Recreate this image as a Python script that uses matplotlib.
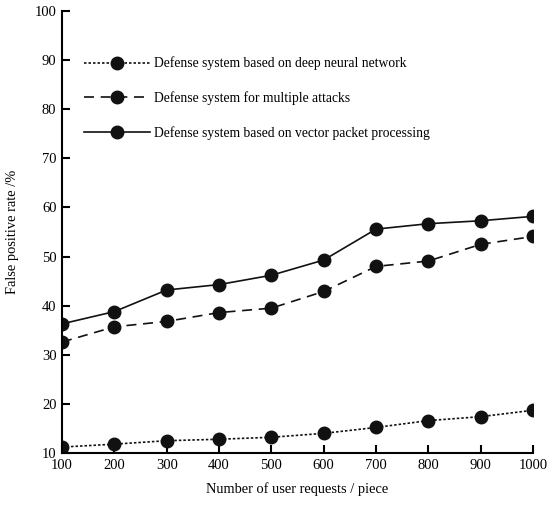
import matplotlib.pyplot as plt

plt.rcParams['font.family'] = ['Liberation Serif', 'DejaVu Serif']

requests = [100, 200, 300, 400, 500, 600, 700, 800, 900, 1000]
dnn_rate = [11.2, 11.8, 12.5, 12.8, 13.2, 14.0, 15.2, 16.6, 17.4, 18.7]
multi_rate = [32.6, 35.7, 36.8, 38.6, 39.5, 42.9, 48.0, 49.1, 52.5, 54.1]
vpp_rate = [36.3, 38.8, 43.2, 44.3, 46.2, 49.3, 55.6, 56.7, 57.3, 58.2]

labels = ['Defense system based on deep neural network',
          'Defense system for multiple attacks',
          'Defense system based on vector packet processing']

fig = plt.figure(figsize=(5.49, 5.05), dpi=100)
ax = fig.add_axes([0.113, 0.103, 0.858, 0.875])

ax.plot(requests, dnn_rate, color='#111111', ls=(0, (1.5, 1.2)), lw=1.2,
        marker='o', ms=9, label=labels[0])
ax.plot(requests, multi_rate, color='#111111', ls=(0, (6, 4)), lw=1.2,
        marker='o', ms=9, label=labels[1])
ax.plot(requests, vpp_rate, color='#111111', ls='-', lw=1.2,
        marker='o', ms=9, label=labels[2])

ax.set_xlim(100, 1000)
ax.set_ylim(10, 100)
ax.set_xticks(requests)
ax.set_yticks(range(10, 101, 10))
for s in ['top', 'right']:
    ax.spines[s].set_visible(False)
for s in ['left', 'bottom']:
    ax.spines[s].set_linewidth(1.5)
ax.tick_params(direction='in', length=6, width=1.5, labelsize=10.5, pad=4)
for lab in ax.get_xticklabels() + ax.get_yticklabels():
    lab.set_clip_on(False)

ax.set_xlabel('Number of user requests / piece', fontsize=10.4, labelpad=8)
ax.set_ylabel('False positive rate /%', fontsize=10.4, labelpad=11)

ax.legend(loc='upper left', bbox_to_anchor=(0.02, 0.925), frameon=False,
          fontsize=9.8, handlelength=4.85, handletextpad=0.35, labelspacing=1.55)

fig.savefig('out.png', dpi=100)
